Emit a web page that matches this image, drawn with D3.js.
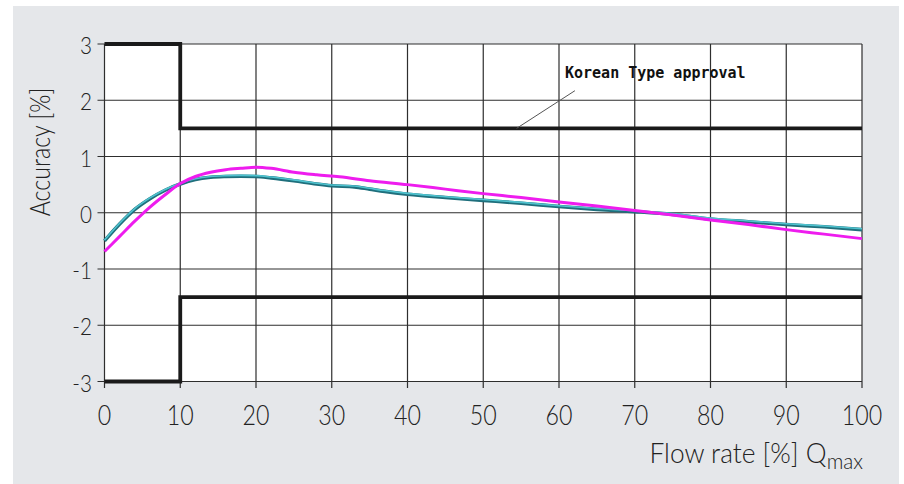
<!DOCTYPE html>
<html><head><meta charset="utf-8">
<script src="https://cdn.jsdelivr.net/npm/d3@7/dist/d3.min.js"></script>
<style>
html,body{margin:0;padding:0;background:#fff;}
svg{display:block;}
.lbl{font-family:Lato,"Open Sans",sans-serif;font-weight:300;fill:#222;}
.ann{font-family:"DejaVu Sans Mono",monospace;font-weight:bold;fill:#111;}
</style></head>
<body>
<svg id="c" width="904" height="484"></svg>
<script>
// ---- data ----
const xTicks = [0,10,20,30,40,50,60,70,80,90,100];
const yTicks = [-3,-2,-1,0,1,2,3];
const upperLimitX = [0,10,10,100];
const upperLimitY = [3,3,1.5,1.5];
const lowerLimitX = [0,10,10,100];
const lowerLimitY = [-3,-3,-1.5,-1.5];
const cyanX = [0,2,4,6,8,10,12,14,16,18,20,22,25,28,30,33,35,37,40,45,50,55,60,65,70,75,80,85,90,95,100];
const cyanY = [-0.50,-0.20,0.06,0.25,0.40,0.51,0.59,0.63,0.645,0.65,0.645,0.62,0.57,0.51,0.48,0.46,0.42,0.38,0.33,0.27,0.22,0.17,0.11,0.06,0.02,-0.03,-0.11,-0.16,-0.21,-0.25,-0.30];
const magentaX = [0,2,4,6,8,10,12,14,16,18,20,22,25,28,31,35,40,45,50,55,60,65,70,75,80,85,90,95,100];
const magentaY = [-0.69,-0.42,-0.15,0.10,0.32,0.52,0.645,0.72,0.765,0.79,0.81,0.79,0.72,0.675,0.64,0.57,0.50,0.42,0.34,0.27,0.19,0.12,0.04,-0.04,-0.13,-0.21,-0.30,-0.38,-0.46];
const annotationText = "Korean Type approval";
const annotationLeader = [[54.4,1.5],[62.1,2.17]];
const xTitle = "Flow rate [%] Q";
const xTitleSub = "max";
const yTitle = "Accuracy [%]";

// ---- chart ----
const svg = d3.select("#c");
const x = d3.scaleLinear().domain([0,100]).range([104.5,862]);
const y = d3.scaleLinear().domain([-3,3]).range([381.5,44]);

svg.append("rect").attr("x",13).attr("y",6).attr("width",886).attr("height",478).attr("fill","#e5e7ea");
svg.append("rect").attr("x",x(0)).attr("y",y(3)).attr("width",x(100)-x(0)).attr("height",y(-3)-y(3)).attr("fill","#fff");

const grid = svg.append("g").attr("stroke","#2e2e2e").attr("stroke-width",1.2);
xTicks.forEach(t=>{
  grid.append("line").attr("x1",x(t)).attr("x2",x(t)).attr("y1",y(3)).attr("y2",y(-3)+6.5);
});
yTicks.forEach(t=>{
  grid.append("line").attr("x1",x(0)-7).attr("x2",x(100)).attr("y1",y(t)).attr("y2",y(t));
});

// tick labels
xTicks.forEach(t=>{
  svg.append("text").attr("class","lbl")
    .attr("transform",`translate(${x(t)},425) scale(0.86,1)`)
    .attr("text-anchor","middle").attr("font-size",27).text(t);
});
yTicks.forEach(t=>{
  svg.append("text").attr("class","lbl")
    .attr("transform",`translate(92,${y(t)+10}) scale(0.9,1)`)
    .attr("text-anchor","end").attr("font-size",23).text(t);
});

// limit lines
const lim = d3.line().x(d=>x(d[0])).y(d=>y(d[1]));
svg.append("path").attr("d",lim(upperLimitX.map((v,i)=>[v,upperLimitY[i]])))
  .attr("fill","none").attr("stroke","#1a1a1a").attr("stroke-width",3.8);
svg.append("path").attr("d",lim(lowerLimitX.map((v,i)=>[v,lowerLimitY[i]])))
  .attr("fill","none").attr("stroke","#1a1a1a").attr("stroke-width",3.8);

// curves
const curve = d3.line().x(d=>x(d[0])).y(d=>y(d[1])).curve(d3.curveMonotoneX);
const cyanData = cyanX.map((v,i)=>[v,cyanY[i]]);
const magData = magentaX.map((v,i)=>[v,magentaY[i]]);
svg.append("path").attr("d",curve(cyanData)).attr("fill","none")
  .attr("stroke","#1f6f7c").attr("stroke-width",3.6);
svg.append("path").attr("d",curve(cyanData)).attr("fill","none")
  .attr("stroke","#4fc3cf").attr("stroke-width",1.6).attr("transform","translate(0,-0.8)");
svg.append("path").attr("d",curve(magData)).attr("fill","none")
  .attr("stroke","#ee1cee").attr("stroke-width",3);

// annotation
svg.append("line")
  .attr("x1",x(annotationLeader[0][0])).attr("y1",y(annotationLeader[0][1]))
  .attr("x2",x(annotationLeader[1][0])).attr("y2",y(annotationLeader[1][1]))
  .attr("stroke","#555").attr("stroke-width",1);
svg.append("text").attr("class","ann").attr("x",565).attr("y",78)
  .attr("font-size",15).text(annotationText);

// axis titles
const xt = svg.append("text").attr("class","lbl").attr("text-anchor","end")
  .attr("transform","translate(863,463) scale(0.94,1)").attr("font-size",28);
xt.append("tspan").text(xTitle);
xt.append("tspan").attr("font-size",22).attr("dy",6).text(xTitleSub);

svg.append("text").attr("class","lbl").attr("text-anchor","middle")
  .attr("transform","translate(50,152) rotate(-90) scale(0.86,1)")
  .attr("font-size",27).text(yTitle);
</script>
</body></html>
